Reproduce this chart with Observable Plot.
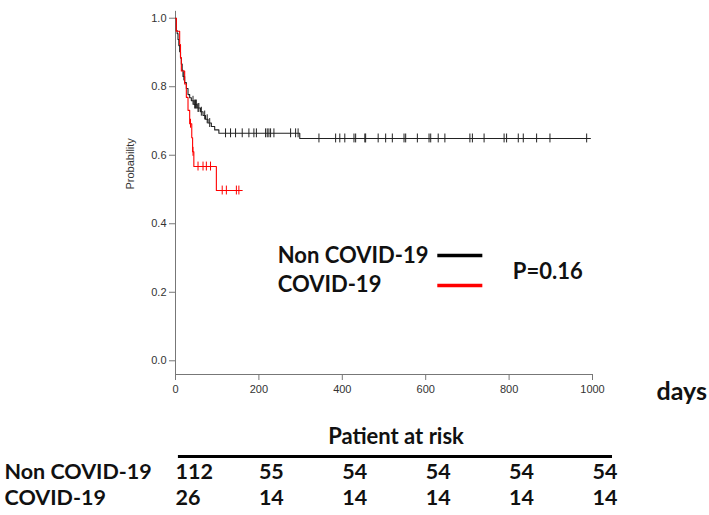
<!DOCTYPE html>
<html><head><meta charset="utf-8">
<script src="https://cdn.jsdelivr.net/npm/d3@7"></script>
<script src="https://cdn.jsdelivr.net/npm/@observablehq/plot@0.6"></script>
<style>body{margin:0;background:#fff}</style>
</head><body><div id="chart"></div>
<script>
// Kaplan–Meier step data (days, survival probability)
const nonCovidDays = [0, 2, 4, 6, 8, 10, 12, 14, 16, 18, 22, 26, 30, 34, 38, 44, 52, 60, 66, 72, 78, 86, 94, 104, 298, 995];
const nonCovidSurv = [1.0, 0.964, 0.955, 0.938, 0.920, 0.902, 0.884, 0.866, 0.848, 0.830, 0.812, 0.795, 0.777, 0.768, 0.759, 0.748, 0.738, 0.727, 0.716, 0.705, 0.694, 0.684, 0.674, 0.664, 0.649, 0.649];
const nonCovidCensor = [20, 42, 46, 48, 50, 54, 56, 62, 70, 76, 82, 120, 132, 144, 160, 176, 188, 194, 216, 220, 224, 228, 236, 276, 288, 294, 344, 384, 394, 406, 428, 432, 454, 456, 486, 504, 520, 548, 552, 580, 608, 612, 630, 646, 706, 712, 740, 788, 794, 822, 834, 866, 898, 986];

const covidDays = [0, 2, 10, 12, 14, 22, 26, 30, 34, 39, 41, 44, 98, 160];
const covidSurv = [1.0, 0.962, 0.923, 0.885, 0.846, 0.808, 0.769, 0.731, 0.692, 0.651, 0.610, 0.567, 0.497, 0.497];
const covidCensor = [36, 42, 54, 66, 74, 84, 112, 122, 146, 152];

const groupNames = ["Non COVID-19", "COVID-19"];
const groupColors = ["#222222", "#ff0000"];
const legendColors = ["#000000", "#ff0000"];

const xTicks = [0, 200, 400, 600, 800, 1000];
const yTicks = [0, 0.2, 0.4, 0.6, 0.8, 1.0];

const riskTimes = [0, 200, 400, 600, 800, 1000];
const nonCovidRisk = [112, 55, 54, 54, 54, 54];
const covidRisk = [26, 14, 14, 14, 14, 14];
const pValueText = "P=0.16";

// build tables
function steps(days, surv) { return days.map((d, i) => ({day: d, s: surv[i]})); }
function survAt(days, surv, t) { let v = surv[0]; for (let i = 0; i < days.length; i++) if (days[i] <= t) v = surv[i]; return v; }
const series = [
  {name: groupNames[0], color: groupColors[0], legend: legendColors[0], line: steps(nonCovidDays, nonCovidSurv),
   censor: nonCovidCensor.map(t => ({day: t, s: survAt(nonCovidDays, nonCovidSurv, t)})), risk: nonCovidRisk},
  {name: groupNames[1], color: groupColors[1], legend: legendColors[1], line: steps(covidDays, covidSurv),
   censor: covidCensor.map(t => ({day: t, s: survAt(covidDays, covidSurv, t)})), risk: covidRisk}
];

const boldFont = "Lato, 'Open Sans', sans-serif";
const axisFont = "'Liberation Sans', Arial, sans-serif";
const tickHalf = 0.013;
const bold = {fontWeight: "bold", fontFamily: boldFont, fill: "#111", lineAnchor: "middle"};

const marks = [];
// axis lines (R style "L" box)
marks.push(Plot.ruleY([-0.04], {x1: 0, x2: 1000, stroke: "#777"}));
marks.push(Plot.ruleX([0], {y1: -0.04, y2: 1.02, stroke: "#777"}));
marks.push(Plot.axisX({ticks: xTicks, tickSize: 6, tickPadding: 5, fontSize: 11, fontFamily: axisFont, stroke: "#777", fill: "#333", label: null, tickFormat: d3.format("d")}));
marks.push(Plot.axisY({ticks: yTicks, tickSize: 6, tickPadding: 3, fontSize: 11, fontFamily: axisFont, stroke: "#777", fill: "#333", label: null, tickFormat: d3.format(".1f")}));
marks.push(Plot.text(["Probability"], {text: d => d, frameAnchor: "left", dx: -45, rotate: -90, fontSize: 11, fontFamily: axisFont, fill: "#333"}));

// curves and censor marks
for (const sr of series) {
  marks.push(Plot.line(sr.line, {x: "day", y: "s", curve: "step-after", stroke: sr.color, strokeWidth: 1.1}));
  marks.push(Plot.ruleX(sr.censor, {x: "day", y1: d => d.s - tickHalf, y2: d => d.s + tickHalf, stroke: sr.color, strokeWidth: 1}));
}

// legend
const legendY = [0.307, 0.220];
series.forEach((sr, i) => {
  marks.push(Plot.text([sr.name], {text: d => d, x: 245, y: legendY[i], textAnchor: "start", fontSize: 22, ...bold}));
  marks.push(Plot.ruleY([legendY[i]], {x1: 629, x2: 737, stroke: sr.legend, strokeWidth: 3.5}));
});
marks.push(Plot.text([pValueText], {text: d => d, x: 809, y: 0.258, textAnchor: "start", fontSize: 22, ...bold}));

// days label
marks.push(Plot.text(["days"], {text: d => d, frameAnchor: "bottom-right", dx: 64, dy: 17, textAnchor: "start", fontSize: 25, ...bold}));

// risk table
marks.push(Plot.text(["Patient at risk"], {text: d => d, frameAnchor: "bottom", dx: 12, dy: 62, fontSize: 22, ...bold}));
marks.push(Plot.ruleY([-0.04], {x1: 7, x2: 1048, dy: 82, stroke: "#000", strokeWidth: 3}));
const rowDy = [98, 124];
series.forEach((sr, i) => {
  const rows = riskTimes.map((t, j) => ({t, n: sr.risk[j]}));
  marks.push(Plot.text(rows, {x: "t", text: d => String(d.n), frameAnchor: "bottom", dy: rowDy[i], textAnchor: "start", fontSize: 21.5, ...bold}));
  marks.push(Plot.text([sr.name], {text: d => d, frameAnchor: "bottom-left", dx: -171, dy: rowDy[i], textAnchor: "start", fontSize: 21.5, ...bold}));
});

const chart = Plot.plot({
  width: 709, height: 515,
  marginLeft: 175, marginRight: 117, marginTop: 4, marginBottom: 141,
  x: {domain: [0, 1000]},
  y: {domain: [-0.04, 1.04]},
  style: {background: "white", overflow: "visible"},
  marks
});
document.getElementById("chart").appendChild(chart);
</script></body></html>
